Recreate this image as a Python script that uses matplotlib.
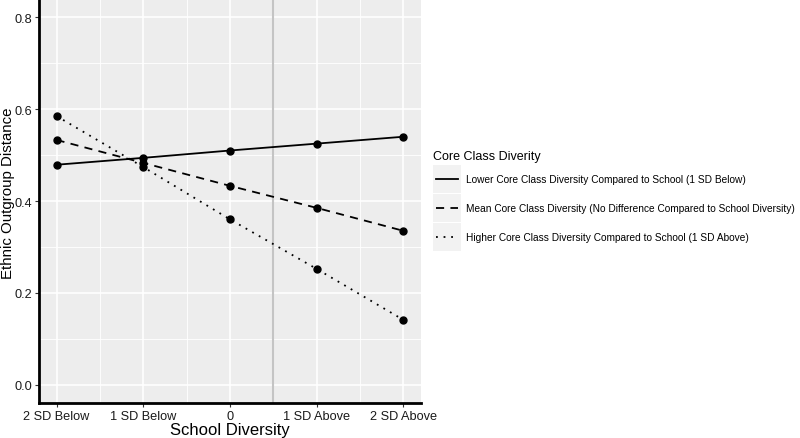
import matplotlib
matplotlib.use("Agg")
import matplotlib.pyplot as plt
from matplotlib.lines import Line2D
from matplotlib.patches import Rectangle

plt.rcParams['font.family'] = ['Liberation Sans', 'DejaVu Sans']

x_labels = ["2 SD Below", "1 SD Below", "0", "1 SD Above", "2 SD Above"]
x_pos = [1, 2, 3, 4, 5]
lower = [0.479, 0.494, 0.510, 0.525, 0.540]
mean = [0.533, 0.483, 0.433, 0.385, 0.335]
higher = [0.585, 0.474, 0.360, 0.252, 0.141]
series_names = [
    "Lower Core Class Diversity Compared to School (1 SD Below)",
    "Mean Core Class Diversity (No Difference Compared to School Diversity)",
    "Higher Core Class Diversity Compared to School (1 SD Above)",
]
styles = ['-', (0, (4.5, 3.5)), (0, (1, 3.2))]
vline_x = 3.5

fig = plt.figure(figsize=(8, 4.39), dpi=100)
ax = fig.add_axes([0.049, 0.0797, 0.477, 0.9203])
ax.set_facecolor('#ededed')
ax.set_xlim(0.8, 5.2)
ax.set_ylim(-0.04, 0.84)
ax.set_xticks(x_pos)
ax.set_xticklabels(x_labels)
ax.set_yticks([0.0, 0.2, 0.4, 0.6, 0.8])
ax.set_yticklabels(["0.0", "0.2", "0.4", "0.6", "0.8"])
ax.set_xticks([1.5, 2.5, 3.5, 4.5], minor=True)
ax.set_yticks([0.1, 0.3, 0.5, 0.7], minor=True)
ax.grid(which='major', color='white', linewidth=1.2)
ax.grid(which='minor', color='white', linewidth=0.6)
ax.tick_params(which='minor', length=0)
ax.tick_params(which='major', length=3, width=0.8, color='#333333', labelsize=9.2, labelcolor='#1a1a1a', pad=2)
ax.set_axisbelow(True)
for s in ['top', 'right']:
    ax.spines[s].set_visible(False)
for s in ['left', 'bottom']:
    ax.spines[s].set_linewidth(2)
    ax.spines[s].set_color('black')

ax.axvline(vline_x, color='#c4c4c4', linewidth=1.5, zorder=1.5)

for ys, ls in zip([lower, mean, higher], styles):
    ax.plot(x_pos, ys, linestyle=ls, color='black', linewidth=1.3, zorder=3)
    ax.plot(x_pos, ys, 'o', color='black', markersize=5, zorder=4)

ax.set_xlabel("School Diversity", fontsize=12, labelpad=0)
ax.set_ylabel("Ethnic Outgroup Distance", fontsize=10.8)
ax.yaxis.set_label_coords(-0.063, 0.522)

# legend
fig.text(433/800, 1 - 157/439, "Core Class Diverity", fontsize=9, va='center', ha='left')
rows = [180, 209, 238]
for r, ls, name in zip(rows, styles, series_names):
    y0 = 1 - (r + 14) / 439
    fig.patches.append(Rectangle((433/800, y0), 28/800, 28/439, transform=fig.transFigure,
                                 facecolor='#f2f2f2', edgecolor='none'))
    fig.lines.append(Line2D([436/800, 458/800], [1 - r/439, 1 - r/439], transform=fig.transFigure,
                            color='black', linestyle=ls, linewidth=1.3))
    fig.text(466/800, 1 - r/439, name, fontsize=7.25, va='center', ha='left')

fig.savefig("out.png", dpi=100)
